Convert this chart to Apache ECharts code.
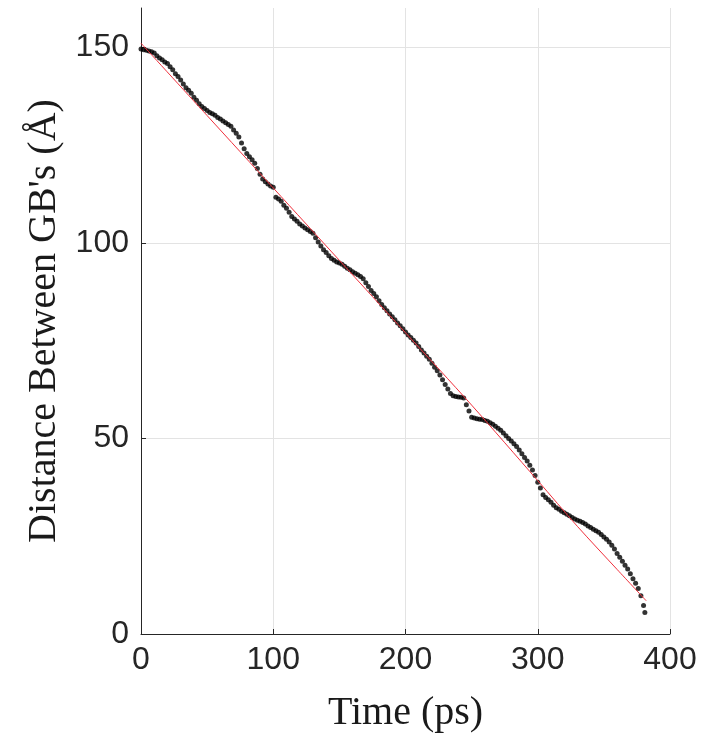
<!DOCTYPE html>
<html>
<head>
<meta charset="utf-8">
<script src="https://cdn.jsdelivr.net/npm/echarts@6/dist/echarts.min.js"></script>
<style>
html,body{margin:0;padding:0;background:#fff;}
#chart{width:701px;height:738px;}
</style>
</head>
<body>
<div id="chart"></div>
<script>
// Simulation samples: time (ps) and distance between grain boundaries (Å)
const times = [0,2,4,6,8,10,12,14,16,18,20,22,24,26,28,30,32,34,36,38,40,42,44,46,48,50,52,54,56,58,60,62,64,66,68,70,72,74,76,78,80,82,84,86,88,90,92,94,96,98,100,102,104,106,108,110,112,114,116,118,120,122,124,126,128,130,132,134,136,138,140,142,144,146,148,150,152,154,156,158,160,162,164,166,168,170,172,174,176,178,180,182,184,186,188,190,192,194,196,198,200,202,204,206,208,210,212,214,216,218,220,222,224,226,228,230,232,234,236,238,240,242,244,246,248,250,252,254,256,258,260,262,264,266,268,270,272,274,276,278,280,282,284,286,288,290,292,294,296,298,300,302,304,306,308,310,312,314,316,318,320,322,324,326,328,330,332,334,336,338,340,342,344,346,348,350,352,354,356,358,360,362,364,366,368,370,372,374,376,378,380,381];
const distance = [149.5,149.3,149.2,149,148.8,148.5,147.8,147.2,146.8,146.2,145.8,145,144.2,143.2,142.5,141.6,140.6,139.6,139,138.2,137.2,136.4,135.5,134.8,134.3,133.8,133.3,133,132.6,132,131.6,131.1,130.7,130.2,129.8,128.8,128,127,125.5,124,122.8,122,121.2,120.3,119,117.5,116.3,115.6,115,114.5,114.2,111.6,111.2,110.6,109.6,108.8,107.8,106.7,106.1,105.5,104.8,104.3,103.8,103.3,102.9,102.4,101.3,100.2,99.2,98.2,97.5,96.7,96,95.5,95.1,94.8,94.5,94,93.5,93.1,92.6,92.2,91.8,91.4,90.8,89.8,88.8,87.8,87,86.2,85.2,84.2,83.4,82.6,81.8,81.1,80.3,79.5,78.8,78,77.2,76.4,75.8,75.1,74.4,73.5,72.6,71.8,71,70.2,69.2,68.2,67.3,66.2,65,63.8,62.6,61.5,60.9,60.7,60.6,60.5,60.3,58.6,57,55.4,55.2,55,54.9,54.8,54.6,54.4,54,53.6,53.1,52.6,52.1,51.4,50.7,50,49.3,48.6,47.9,47,46.1,45.1,44.2,43.1,41.9,40.5,38.8,37.3,35.6,34.9,34.3,33.7,32.9,32.3,31.9,31.4,31,30.6,30.2,29.8,29.4,29.1,28.8,28.5,28.1,27.6,27.2,26.8,26.4,26,25.4,24.8,24.2,23.5,22.7,21.7,20.6,19.6,18.6,17.6,16.6,15.4,14.1,13,11.6,9.8,7.3,5.5];
// Fitted curve (red)
const fitTimes = [0,50,100,150,200,250,300,330,360,382];
const fitDistance = [151,132.5,114,95.5,77,58.5,39.2,27.5,16.5,8.5];
// Tick labels
const xTicks = [0,100,200,300,400];
const yTicks = [0,50,100,150];

const scatterData = times.map((t,i)=>[t,distance[i]]);
const fitData = fitTimes.map((t,i)=>[t,fitDistance[i]]);

const chart = echarts.init(document.getElementById('chart'), null, {renderer:'canvas'});
const axisColor = '#262626';
const gridColor = '#e3e3e3';
chart.setOption({
  animation:false,
  backgroundColor:'#ffffff',
  grid:{left:141,right:31,top:8,bottom:103,containLabel:false},
  xAxis:{
    type:'value',min:0,max:400,interval:100,
    name:'Time (ps)',nameLocation:'middle',nameGap:59,
    nameTextStyle:{fontFamily:'Liberation Serif',fontSize:40,color:'#1a1a1a'},
    axisLine:{show:true,onZero:false,lineStyle:{color:axisColor,width:1}},
    axisTick:{show:true,inside:true,length:5,lineStyle:{color:axisColor}},
    axisLabel:{fontFamily:'Liberation Sans',fontSize:32,color:axisColor,margin:10},
    splitLine:{show:true,lineStyle:{color:gridColor,width:1}}
  },
  yAxis:{
    type:'value',min:0,max:160,interval:50,
    name:"Distance Between GB's (Å)",nameLocation:'middle',nameGap:77,nameRotate:90,
    nameTextStyle:{fontFamily:'Liberation Serif',fontSize:40,color:'#1a1a1a'},
    axisLine:{show:true,onZero:false,lineStyle:{color:axisColor,width:1}},
    axisTick:{show:true,inside:true,length:5,lineStyle:{color:axisColor},customValues:yTicks},
    axisLabel:{fontFamily:'Liberation Sans',fontSize:32,color:axisColor,margin:12,customValues:yTicks},
    splitLine:{show:true,lineStyle:{color:gridColor,width:1}}
  },
  series:[
    {type:'scatter',data:scatterData,symbol:'circle',symbolSize:5,
     itemStyle:{color:'#000000'},z:2},
    {type:'line',data:fitData,smooth:0.3,showSymbol:false,symbol:'none',
     lineStyle:{color:'#f0303c',width:1},z:3}
  ]
});
</script>
</body>
</html>
